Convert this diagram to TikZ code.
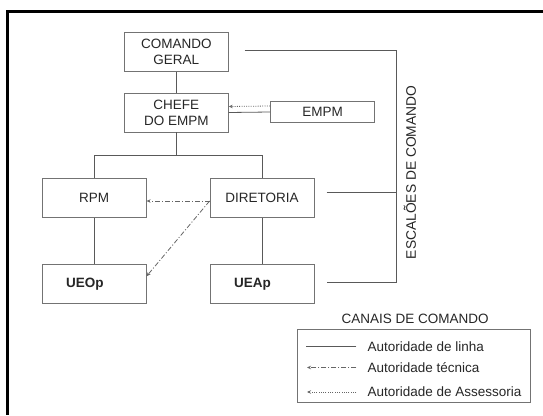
\documentclass[tikz,border=0pt]{standalone}
\usepackage{fontspec}
\setmainfont{Liberation Sans}
\usetikzlibrary{arrows.meta, positioning, calc}

\begin{document}
\begin{tikzpicture}[x=1pt, y=-1pt]
\tikzset{
  org/.style={rectangle,draw=black!55,line width=0.8pt,minimum width=104pt,minimum height=39pt,inner sep=0pt,align=center,font=\fontsize{13.5}{16}\selectfont,text=black!85},
  unit/.style={org,font=\fontsize{13.5}{16}\selectfont\bfseries,text width=56pt,align=left},
  staff/.style={org,minimum height=21.5pt},
  lin/.style={draw=black!65,line width=0.8pt},
  tec/.style={-{Stealth[length=4pt,width=3.5pt]},draw=black!60,line width=0.8pt,dash pattern=on 5pt off 2pt on 1pt off 2pt},
  ass/.style={-{Stealth[length=4pt,width=3.5pt]},draw=black!60,line width=0.8pt,dash pattern=on 1pt off 1.3pt},
  txt/.style={inner sep=0pt,font=\fontsize{13.5}{16}\selectfont,text=black!85},
  legbox/.style={rectangle,draw=black!55,line width=0.8pt,minimum width=233pt,minimum height=73pt,inner sep=0pt}
}
\useasboundingbox (0,0) rectangle (543,415);
% ---- frame
\draw[line width=3pt] (543,11.7) -- (7.3,11.7) -- (7.3,415);
% ---- organisation
\node[org]   (cg)    at (176.3,51.8)  {COMANDO\\ GERAL};
\node[org]   (chefe) at (176.3,112.5) {CHEFE\\ DO EMPM};
\node[staff] (empm)  at (322.5,112)   {EMPM};
\node[org]   (rpm)   at (94.2,198.3)  {RPM};
\node[org]   (dir)   at (262,198.3)   {DIRETORIA};
\node[unit]  (ueop)  at (94.2,284.2)  {UEOp};
\node[unit]  (ueap)  at (262,284.2)   {UEAp};
% ---- line authority
\draw[lin] (cg) -- (chefe);
\draw[lin] (chefe.east) -- (empm.west);
\draw[lin] (chefe.south) -- ++(0,22.5) -| (rpm.north);
\draw[lin] (chefe.south) -- ++(0,22.5) -| (dir.north);
\draw[lin] (rpm) -- (ueop);
\draw[lin] (dir) -- (ueap);
% ---- technical and staff channels
\draw[ass] ([yshift=6pt]empm.west) -- ([yshift=6pt]chefe.east);
\draw[tec] ([yshift=-2.7pt]dir.west) -- ([yshift=-2.7pt]rpm.east);
\draw[tec] ([yshift=-2.7pt]dir.west) -- ([yshift=8pt]ueop.east);
% ---- echelons
\coordinate (etop) at (244.5,50);
\coordinate (emid) at (326.7,192.3);
\coordinate (ebot) at (326.7,282.3);
\coordinate (ecol) at (396.5,50);
\draw[lin] (etop) -- (ecol) |- (ebot);
\draw[lin] (emid) -- (emid -| ecol);
\node[txt,rotate=90,font=\fontsize{13.8}{16}\selectfont] (esc) at (410,172.5) {ESCALÕES DE COMANDO};
% ---- legend
\node[txt] (canais) at (415.2,319.3) {CANAIS DE COMANDO};
\node[legbox] (leg) at (413.4,366) {};
\node[txt,anchor=west] (l1) at (367.3,346.5) {Autoridade de linha};
\node[txt,anchor=west] (l2) at (367.3,367.5) {Autoridade técnica};
\node[txt,anchor=west] (l3) at (367.3,392) {Autoridade de Assessoria};
\draw[lin] ([xshift=-11pt]l1.west) -- ++(-50.3,0);
\draw[tec] ([xshift=-11pt]l2.west) -- ++(-49.3,0);
\draw[ass] ([xshift=-11pt]l3.west) -- ++(-49.3,0);
\end{tikzpicture}
\end{document}
